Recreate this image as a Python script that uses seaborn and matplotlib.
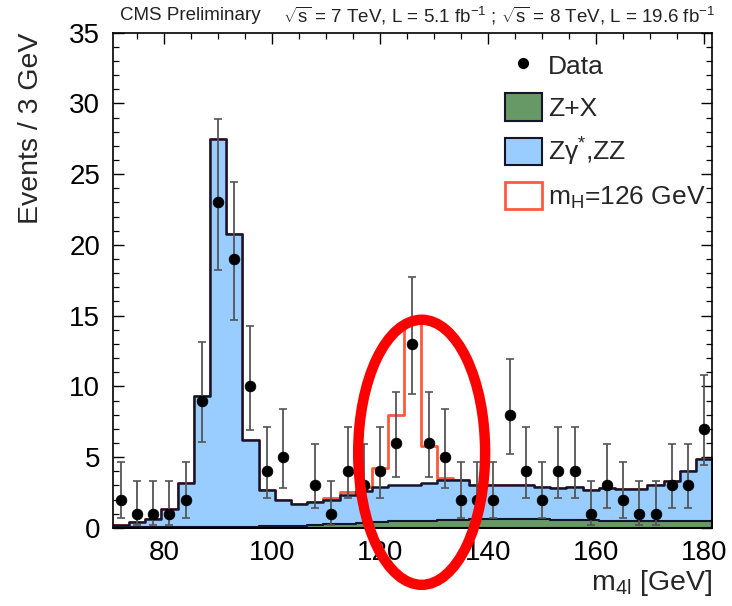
import numpy as np
import pandas as pd
import matplotlib
matplotlib.use("Agg")
import matplotlib.pyplot as plt
import seaborn as sns
from matplotlib.patches import Patch, Ellipse
from matplotlib.lines import Line2D
from matplotlib.ticker import MultipleLocator

# ---------------- data ----------------
mass = [72, 75, 78, 81, 84, 87, 90, 93, 96, 99, 102, 105, 108, 111, 114, 117, 120,
        123, 126, 129, 132, 135, 138, 141, 144, 147, 150, 153, 156, 159, 162, 165,
        168, 171, 174, 177, 180]
data = [2, 1, 1, 1, 2, 9, 23, 19, 10, 4, 5, 0, 3, 1, 4, 3, 4, 6, 13, 6, 5, 2, 2, 2,
        8, 4, 2, 4, 4, 1, 3, 2, 1, 1, 3, 3, 7]
zx = [0.05, 0.05, 0.05, 0.05, 0.05, 0.05, 0.05, 0.05, 0.08, 0.1, 0.12, 0.15, 0.2,
      0.25, 0.3, 0.35, 0.4, 0.45, 0.5, 0.5, 0.55, 0.55, 0.6, 0.6, 0.6, 0.6, 0.6,
      0.55, 0.55, 0.55, 0.5, 0.5, 0.5, 0.5, 0.45, 0.45, 0.45]
zz = [0.15, 0.35, 0.55, 1.25, 3.15, 9.25, 27.45, 20.75, 6.12, 2.6, 1.88, 1.55, 1.6,
      1.75, 2.0, 2.25, 2.5, 2.55, 2.55, 2.7, 2.85, 2.8, 2.45, 2.45, 2.45, 2.4, 2.3,
      2.25, 2.35, 2.1, 2.3, 2.25, 2.25, 2.55, 2.85, 3.55, 4.45]
sig = [0, 0, 0, 0, 0, 0, 0, 0, 0, 0, 0, 0, 0.05, 0.1, 0.2, 0.3, 1.3, 5.0, 11.4, 2.6,
       0.15, 0.05, 0, 0, 0, 0, 0, 0, 0, 0, 0, 0, 0, 0, 0, 0, 0]
# 68% Garwood (Poisson) intervals: n -> (down, up)
garwood = {1: (0.83, 2.30), 2: (1.29, 2.64), 3: (1.63, 2.92), 4: (1.91, 3.16),
           5: (2.16, 3.38), 6: (2.38, 3.58), 7: (2.58, 3.77), 8: (2.77, 3.95),
           9: (2.94, 4.11), 10: (3.11, 4.27), 13: (3.56, 4.70), 19: (4.32, 5.44),
           23: (4.76, 5.87)}
x_ticks = [80, 100, 120, 140, 160, 180]
y_ticks = [0, 5, 10, 15, 20, 25, 30, 35]
legend_labels = ["Data", "Z+X", "Zγ$^{*}$,ZZ", "m$_{H}$=126 GeV"]

BLUE = "#99ccff"
GREEN = "#669966"
SIG = "#ff5a3c"
EDGE = "#15152a"

sns.set_theme(style="ticks")
plt.rcParams["font.family"] = ["Liberation Sans", "DejaVu Sans"]
plt.rcParams["mathtext.fontset"] = "custom"
plt.rcParams["mathtext.rm"] = "Liberation Sans"
plt.rcParams["mathtext.it"] = "Liberation Sans:italic"
plt.rcParams["mathtext.default"] = "regular"

df = pd.DataFrame({"m4l": mass, "data": data, "zx": zx, "zz": zz, "sig": sig})
df["bkg"] = df["zx"] + df["zz"]
df["tot"] = df["bkg"] + df["sig"]
edges = [m - 1.5 for m in mass] + [mass[-1] + 1.5]

fig = plt.figure(figsize=(7.32, 6.06), dpi=100)
ax = fig.add_axes([0.154, 0.129, 0.819, 0.817])

sns.histplot(data=df, x="m4l", weights="tot", bins=edges, element="step", fill=True,
             color="white", edgecolor=SIG, linewidth=2.0, alpha=1, ax=ax)
sns.histplot(data=df, x="m4l", weights="bkg", bins=edges, element="step", fill=True,
             color=BLUE, edgecolor=EDGE, linewidth=1.8, alpha=1, ax=ax)
sns.histplot(data=df, x="m4l", weights="zx", bins=edges, element="step", fill=True,
             color=GREEN, edgecolor=EDGE, linewidth=1.5, alpha=1, ax=ax)

pts = df[df["data"] > 0]
lo = [garwood[n][0] for n in pts["data"]]
hi = [garwood[n][1] for n in pts["data"]]
ax.errorbar(pts["m4l"], pts["data"], yerr=[lo, hi], fmt="none", ecolor="#555555",
            elinewidth=1.3, capsize=3, capthick=1.2, zorder=5)
sns.scatterplot(data=pts, x="m4l", y="data", color="black", s=60, edgecolor="black",
                linewidth=0.5, zorder=6, ax=ax, legend=False)

ax.set_xlim(70.5, 181.5)
ax.set_ylim(0, 35)
ax.set_xticks(x_ticks)
ax.set_yticks(y_ticks)
ax.xaxis.set_minor_locator(MultipleLocator(5))
ax.yaxis.set_minor_locator(MultipleLocator(1))
ax.tick_params(which="both", direction="in", top=True, right=True, colors="black")
ax.tick_params(which="major", length=8, width=1.0, labelsize=20, pad=9)
ax.tick_params(which="minor", length=4, width=0.9)
for s in ax.spines.values():
    s.set_linewidth(1.2)
    s.set_color("black")

ax.set_xlabel("m$_{4l}$ [GeV]", fontsize=20.5, loc="right")
ax.xaxis.set_label_coords(1.0, -0.082)
ax.set_ylabel("Events / 3 GeV", fontsize=20.5, loc="top")
ax.yaxis.set_label_coords(-0.115, 1.0)

handles = [Line2D([], [], marker="o", color="black", linestyle="none", markersize=7),
           Patch(facecolor=GREEN, edgecolor=EDGE, linewidth=1.5),
           Patch(facecolor=BLUE, edgecolor=EDGE, linewidth=1.5),
           Patch(facecolor="white", edgecolor=SIG, linewidth=2.0)]
ax.legend(handles, legend_labels, loc="upper left", bbox_to_anchor=(0.654, 0.962),
          frameon=False, fontsize=19, handlelength=1.4, handleheight=1.2,
          labelspacing=0.55, handletextpad=0.25, borderpad=0, borderaxespad=0)

fig.text(0.164, 0.974, "CMS Preliminary", fontsize=13.5, ha="left", va="center",
         color="#222222")
fig.text(0.977, 0.974,
         r"$\sqrt{s}$ = 7 TeV, L = 5.1 fb$^{-1}$ ; $\sqrt{s}$ = 8 TeV, L = 19.6 fb$^{-1}$",
         fontsize=13.5, ha="right", va="center", color="#222222")

ax.add_patch(Ellipse((127.7, 5.34), 23.5, 18.74, fill=False, edgecolor="#ff0000",
                     linewidth=7.5, clip_on=False, zorder=20))

fig.savefig("out.png", dpi=100)
